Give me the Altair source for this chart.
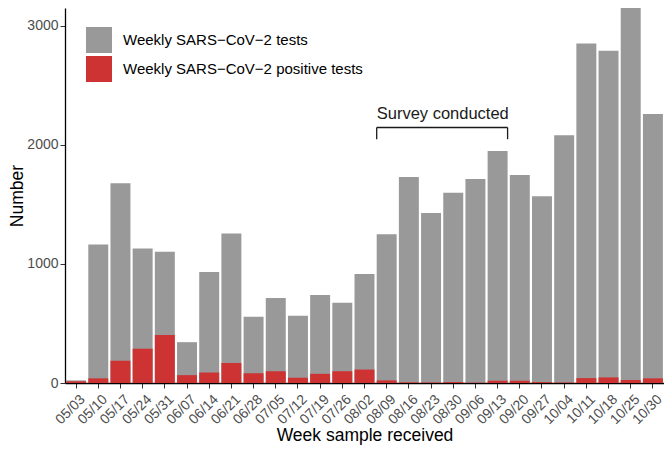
import altair as alt
import pandas as pd

weeks = ["05/03", "05/10", "05/17", "05/24", "05/31", "06/07", "06/14", "06/21", "06/28",
         "07/05", "07/12", "07/19", "07/26", "08/02", "08/09", "08/16", "08/23", "08/30",
         "09/06", "09/13", "09/20", "09/27", "10/04", "10/11", "10/18", "10/25", "10/30"]
total_tests = [22, 1163, 1678, 1130, 1102, 343, 932, 1256, 557, 713, 565, 740, 675, 916,
               1250, 1730, 1428, 1599, 1714, 1949, 1747, 1568, 2081, 2851, 2791, 3191, 2259]
positive_tests = [14, 39, 187, 288, 403, 66, 88, 168, 82, 99, 44, 77, 99, 113,
                  22, 6, 5, 8, 4, 19, 19, 8, 5, 41, 47, 25, 39]

series_names = ["Weekly SARS\u2212CoV\u22122 tests", "Weekly SARS\u2212CoV\u22122 positive tests"]
series_colors = ["#999999", "#CD3333"]

x_title = "Week sample received"
y_title = "Number"
y_ticks = [0, 1000, 2000, 3000]

survey_label = "Survey conducted"
survey_start = "08/09"
survey_end = "09/13"
bracket_top = 2146
bracket_bottom = 2048
label_y = 2215

rows = []
for w, t in zip(weeks, total_tests):
    rows.append({"week": w, "series": series_names[0], "value": t})
for w, p in zip(weeks, positive_tests):
    rows.append({"week": w, "series": series_names[1], "value": p})
df = pd.DataFrame(rows)

ann = pd.DataFrame([{"start": survey_start, "end": survey_end, "top": bracket_top,
                     "bottom": bracket_bottom, "ly": label_y, "label": survey_label}])

xscale = alt.Scale(domain=weeks, paddingInner=0.1, paddingOuter=0.05, round=False)
yscale = alt.Scale(domain=[0, 3150], nice=False, zero=True)

color = alt.Color(
    "series:N",
    scale=alt.Scale(domain=series_names, range=series_colors),
    legend=alt.Legend(
        title=None, orient="none", legendX=21, legendY=19, symbolType="square",
        symbolSize=676, symbolStrokeWidth=0, labelFontSize=15, labelColor="black",
        rowPadding=3, labelOffset=11, padding=0, labelLimit=400,
    ),
)

x_axis = alt.Axis(labelAngle=-45, labelAlign="right", labelBaseline="top", labelPadding=4,
                  labelOffset=2, titlePadding=0)
y_axis = alt.Axis(values=y_ticks, format="d", grid=False, labelPadding=2, titlePadding=0)

x_enc = alt.X("week:N", scale=xscale, sort=weeks, title=x_title, axis=x_axis)
y_enc = alt.Y("value:Q", scale=yscale, title=y_title, axis=y_axis)

base = alt.Chart(df)
gray = base.transform_filter(alt.datum.series == series_names[0]).mark_bar(clip=True).encode(
    x=x_enc, y=y_enc, color=color)
red = base.transform_filter(alt.datum.series == series_names[1]).mark_bar(clip=True).encode(
    x=x_enc, y=y_enc, color=color)

abase = alt.Chart(ann)
line_style = dict(color="#1a1a1a", strokeWidth=1.3)
hline = abase.mark_rule(**line_style).encode(
    x=alt.X("start:N", scale=xscale, bandPosition=0, title=x_title, axis=x_axis),
    x2=alt.X2("end:N", bandPosition=1),
    y=alt.Y("top:Q", scale=yscale, title=y_title, axis=y_axis),
)
ltick = abase.mark_rule(**line_style).encode(
    x=alt.X("start:N", scale=xscale, bandPosition=0, title=x_title, axis=x_axis),
    y=alt.Y("top:Q", scale=yscale, title=y_title, axis=y_axis),
    y2="bottom:Q",
)
rtick = abase.mark_rule(**line_style).encode(
    x=alt.X("end:N", scale=xscale, bandPosition=1, title=x_title, axis=x_axis),
    y=alt.Y("top:Q", scale=yscale, title=y_title, axis=y_axis),
    y2="bottom:Q",
)
text = abase.mark_text(align="left", baseline="alphabetic", fontSize=16.5, color="#1a1a1a").encode(
    x=alt.X("start:N", scale=xscale, bandPosition=0, title=x_title, axis=x_axis),
    y=alt.Y("ly:Q", scale=yscale, title=y_title, axis=y_axis),
    text="label:N",
)

chart = alt.layer(gray, red, hline, ltick, rtick, text).properties(
    width=599, height=375, autosize="none",
    padding={"left": 57, "top": 0, "right": 0, "bottom": 66},
).configure(font="Liberation Sans").configure_view(stroke=None).configure_axis(
    domainColor="black", domainWidth=1.3, tickColor="#333333", tickWidth=1, tickSize=5,
    labelColor="#4d4d4d", labelFontSize=14,
    titleFontSize=17.5, titleFontWeight="normal", titleColor="black",
)

chart.save("out.html", embed_options={"renderer": "svg", "actions": False})
